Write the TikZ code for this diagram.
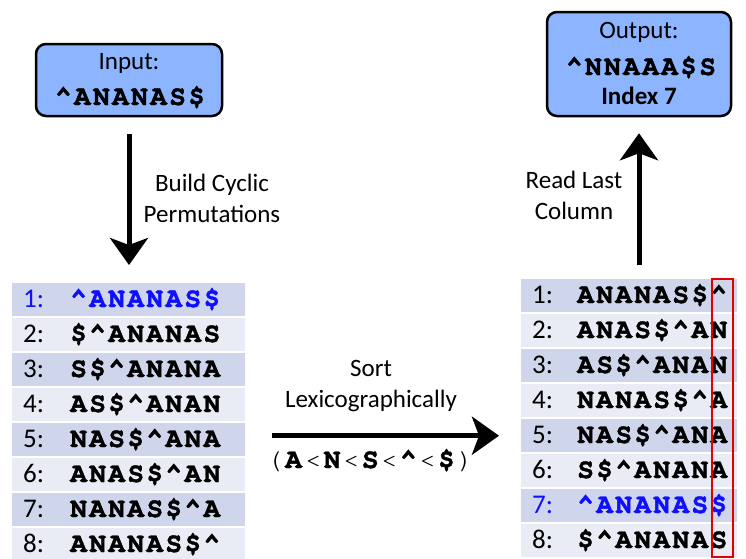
\documentclass[tikz,border=0pt]{standalone}
\usepackage{fontspec}
\setmainfont{Carlito}
\newfontfamily\cursor{texgyrecursor}[Extension=.otf, UprightFont=*-regular, BoldFont=*-bold, LetterSpace=8, BoldFeatures={FakeBold=1.3}]
\usetikzlibrary{arrows.meta}
\definecolor{boxblue}{RGB}{141,180,255}
\definecolor{banddark}{RGB}{207,213,234}
\definecolor{bandlight}{RGB}{233,235,245}
\definecolor{hiblue}{RGB}{15,15,255}
\def\crt{\textasciicircum}
\def\dol{\$}
\tikzset{
	iobox/.style={draw=black, line width=2.5pt, rounded corners=10pt, fill=boxblue, inner sep=0pt},
	band/.style={inner sep=0pt, minimum height=33pt, anchor=north west},
	seq/.style={font=\cursor\bfseries\fontsize{28}{28}\selectfont, inner sep=0pt, anchor=base west},
	seqc/.style={seq, anchor=base},
	num/.style={font=\fontsize{27}{27}\selectfont, inner sep=0pt, anchor=base west},
	txt/.style={font=\fontsize{25}{25}\selectfont, inner sep=0pt, anchor=base},
	lbl/.style={font=\fontsize{25}{31}\selectfont, align=center, inner sep=0pt},
	flow/.style={line width=5pt, -{Stealth[length=27pt, width=38pt, inset=7pt]}}
}

\begin{document}
\begin{tikzpicture}[x=1pt, y=-1pt]
			%%%%% START %%%%%
			\useasboundingbox (0,0) rectangle (746,558);
			
			% input / output boxes
			\node[iobox, minimum width=186pt, minimum height=72pt] (inp) at (129,80) {};
			\node[txt] (inptitle) at (129,69) {Input:};
			\node[seqc] (inpseq) at (130,105) {\crt ANANAS\dol};
			
			\node[iobox, minimum width=184pt, minimum height=104pt] (out) at (639,64) {};
			\node[txt] (outtitle) at (639,38) {Output:};
			\node[seqc] (outseq) at (641,75) {\crt NNAAA\dol S};
			\node[txt, font=\bfseries\fontsize{25}{25}\selectfont] (outidx) at (639,104) {Index 7};
			
			% cyclic permutations
			\foreach \k/\tint/\ink/\s in {1/banddark/hiblue/{\crt ANANAS\dol}, 2/bandlight/black/{\dol\crt ANANAS},
				3/banddark/black/{S\dol\crt ANANA}, 4/bandlight/black/{AS\dol\crt ANAN},
				5/banddark/black/{NAS\dol\crt ANA}, 6/bandlight/black/{ANAS\dol\crt AN},
				7/banddark/black/{NANAS\dol\crt A}, 8/bandlight/black/{ANANAS\dol\crt}}
			{
				\node[band, fill=\tint, minimum width=233pt] (L\k) at (12,{283+35*(\k-1)}) {};
				\node[num, text=\ink] (Ln\k) at (23,{307+35*(\k-1)}) {\k:};
				\node[seq, text=\ink] (Ls\k) at (70,{307+35*(\k-1)}) {\s};
			}
			
			% sorted permutations
			\foreach \k/\tint/\ink/\s in {1/banddark/black/{ANANAS\dol\crt}, 2/bandlight/black/{ANAS\dol\crt AN},
				3/banddark/black/{AS\dol\crt ANAN}, 4/bandlight/black/{NANAS\dol\crt A},
				5/banddark/black/{NAS\dol\crt ANA}, 6/bandlight/black/{S\dol\crt ANANA},
				7/banddark/hiblue/{\crt ANANAS\dol}, 8/bandlight/black/{\dol\crt ANANAS}}
			{
				\node[band, fill=\tint, minimum width=216pt] (R\k) at (521,{279+35*(\k-1)}) {};
				\node[num, text=\ink] (Rn\k) at (532,{303+35*(\k-1)}) {\k:};
				\node[seq, text=\ink] (Rs\k) at (577,{303+35*(\k-1)}) {\s};
			}
			
			% last column
			\draw[red!90!black, line width=1.5pt] (712,279) rectangle (733,557);
			
			% arrows
			\draw[flow] ([yshift=-17pt]inp.south) -- ([yshift=18pt]inp.south |- L1.north);
			\node[lbl] (build) at (212,198) {Build Cyclic\\Permutations};
			
			\coordinate (sortA) at ([xshift=27pt]L5.east);
			\draw[flow] (sortA |- R5.west) -- ([xshift=-22pt]R5.west);
			\node[lbl] (sortlbl) at (371,386) {Sort\\Lexicographically};
			\node[txt, font=\cursor\fontsize{28}{28}\selectfont] (order) at (370,468)
				{(\textbf{A}<\textbf{N}<\textbf{S}<\textbf{\crt}<\textbf{\dol})};
			
			\draw[flow] ([yshift=14pt]out.south |- R1.north) -- ([yshift=-16pt]out.south);
			\node[lbl] (readlbl) at (574,195) {Read Last\\Column};
			
			%%%%% END %%%%%
		\end{tikzpicture}
\end{document}
